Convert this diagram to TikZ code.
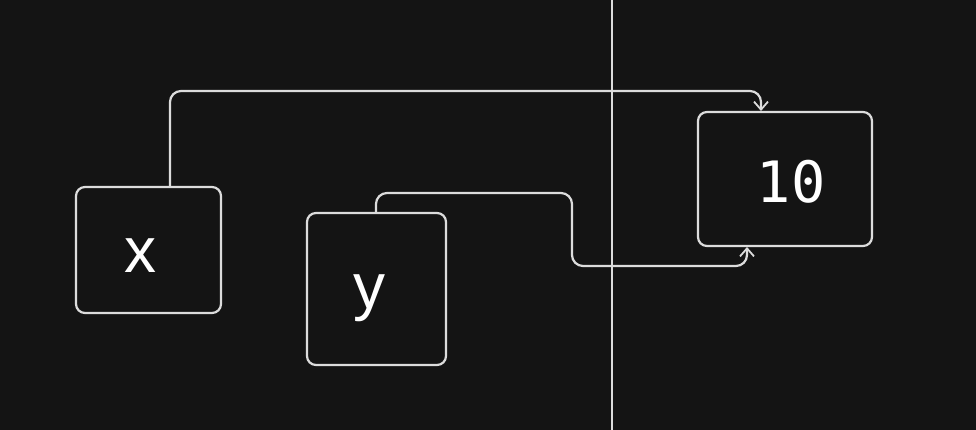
\documentclass[tikz,border=0pt]{standalone}
\usepackage{fontspec}
\setmainfont{Liberation Sans}
\newfontfamily\monof{DejaVu Sans Mono}
\usetikzlibrary{arrows.meta}
\definecolor{bg}{HTML}{141414}
\definecolor{ink}{HTML}{DCDCDC}
\begin{document}
\begin{tikzpicture}[x=1pt,y=-1pt,
  box/.style={draw=ink,line width=2.2pt,rounded corners=9pt,fill=bg,inner sep=0pt},
  conn/.style={draw=ink,line width=2.2pt,rounded corners=11pt,-{Straight Barb[length=8pt,width=14pt,line width=1.8pt]}},
  lbl/.style={text=white,inner sep=0pt,font=\fontsize{64}{64}\selectfont}]
\fill[bg] (0,0) rectangle (976,430);
\useasboundingbox (0,0) rectangle (976,430);
\draw[ink,line width=2pt] (612,0) -- (612,430);
\node[box,minimum width=145pt,minimum height=126pt] (bx) at (148.5,250) {};
\node[lbl] (tx) at (140,255.5) {x};
\node[box,minimum width=139pt,minimum height=152pt] (by) at (376.5,289) {};
\node[lbl] (ty) at (369,298.5) {y};
\node[box,minimum width=174pt,minimum height=134pt] (bt) at (785,179) {};
\node[text=white,inner sep=0pt,font=\monof\fontsize{57}{57}\selectfont] (tt) at (791,181.5) {10};
\coordinate (xs) at (170,187);
\coordinate (ys) at (376,213);
\draw[conn] (xs) -- (170,91) -- (761,91) -- (761,111);
\draw[conn] (ys) -- (376,193) -- (572,193) -- (572,266) -- (747,266) -- (747,247);
\end{tikzpicture}
\end{document}
